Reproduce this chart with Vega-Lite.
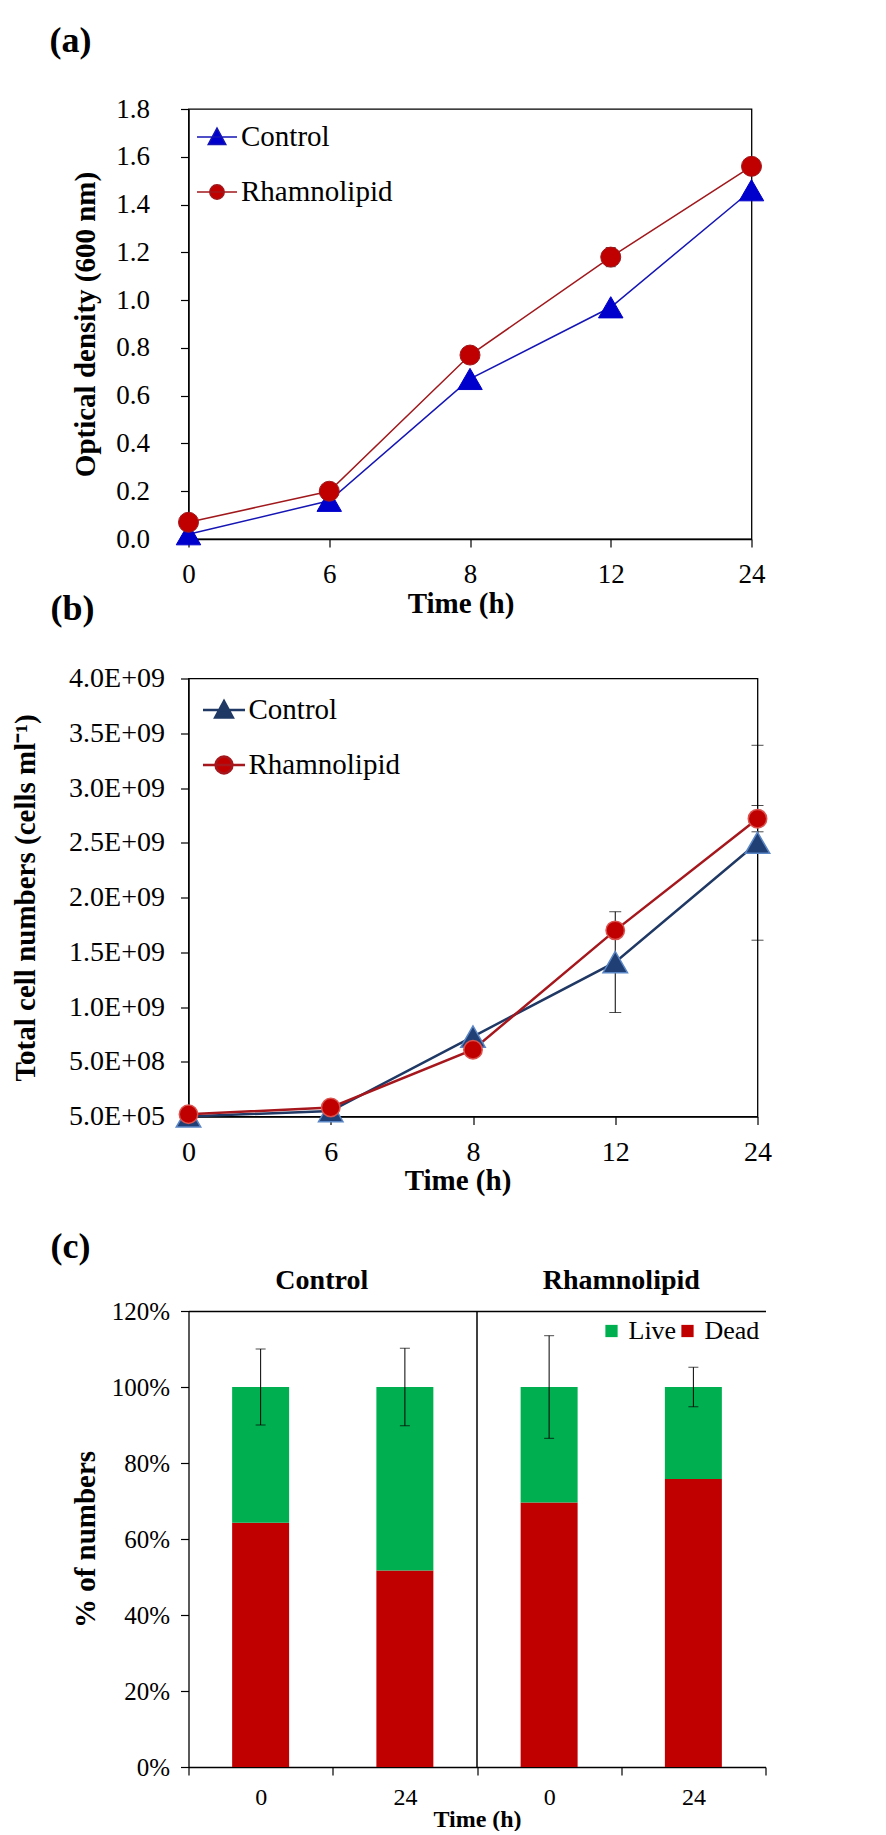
{
  "$schema": "https://vega.github.io/schema/vega-lite/v6.json",
  "background": "white",
  "padding": {"top": 22, "left": 9.5, "right": 0, "bottom": 0},
  "spacing": -28.5,
  "config": {
    "font": "Liberation Serif",
    "view": {"stroke": "black", "strokeWidth": 1.3},
    "axis": {"domainColor": "black", "domainWidth": 1.3, "tickColor": "black", "tickWidth": 1.2, "tickSize": 8, "labelColor": "black", "labelFont": "Liberation Serif", "labelFontSize": 27, "titleFont": "Liberation Serif", "titleFontWeight": "bold", "titleFontSize": 29, "titleColor": "black", "grid": false, "labelAngle": 0},
    "legend": {"labelFont": "Liberation Serif", "labelColor": "black"}
  },
  "datasets": {
    "od": [
      {"time": 0, "series": "Control", "od": 0.02},
      {"time": 6, "series": "Control", "od": 0.16},
      {"time": 8, "series": "Control", "od": 0.67},
      {"time": 12, "series": "Control", "od": 0.97},
      {"time": 24, "series": "Control", "od": 1.46},
      {"time": 0, "series": "Rhamnolipid", "od": 0.07},
      {"time": 6, "series": "Rhamnolipid", "od": 0.20},
      {"time": 8, "series": "Rhamnolipid", "od": 0.77},
      {"time": 12, "series": "Rhamnolipid", "od": 1.18, "err": 0.04},
      {"time": 24, "series": "Rhamnolipid", "od": 1.56}
    ],
    "cells": [
      {"time": 0, "series": "Control", "cells": 500000},
      {"time": 6, "series": "Control", "cells": 50000000},
      {"time": 8, "series": "Control", "cells": 730000000},
      {"time": 12, "series": "Control", "cells": 1410000000, "err": 460000000},
      {"time": 24, "series": "Control", "cells": 2500000000, "err": 890000000},
      {"time": 0, "series": "Rhamnolipid", "cells": 20000000},
      {"time": 6, "series": "Rhamnolipid", "cells": 82000000},
      {"time": 8, "series": "Rhamnolipid", "cells": 610000000},
      {"time": 12, "series": "Rhamnolipid", "cells": 1700000000},
      {"time": 24, "series": "Rhamnolipid", "cells": 2720000000, "err": 120000000}
    ],
    "viab": [
      {"sample": "Control|0", "group": "Control", "time": "0", "status": "Dead", "pct": 0.643},
      {"sample": "Control|0", "group": "Control", "time": "0", "status": "Live", "pct": 0.357},
      {"sample": "Control|24", "group": "Control", "time": "24", "status": "Dead", "pct": 0.517},
      {"sample": "Control|24", "group": "Control", "time": "24", "status": "Live", "pct": 0.483},
      {"sample": "Rhamnolipid|0", "group": "Rhamnolipid", "time": "0", "status": "Dead", "pct": 0.696},
      {"sample": "Rhamnolipid|0", "group": "Rhamnolipid", "time": "0", "status": "Live", "pct": 0.304},
      {"sample": "Rhamnolipid|24", "group": "Rhamnolipid", "time": "24", "status": "Dead", "pct": 0.758},
      {"sample": "Rhamnolipid|24", "group": "Rhamnolipid", "time": "24", "status": "Live", "pct": 0.242}
    ],
    "viabErr": [
      {"sample": "Control|0", "total": 1.0, "err": 0.100},
      {"sample": "Control|24", "total": 1.0, "err": 0.102},
      {"sample": "Rhamnolipid|0", "total": 1.0, "err": 0.135},
      {"sample": "Rhamnolipid|24", "total": 1.0, "err": 0.052}
    ]
  },
  "resolve": {"scale": {"color": "independent", "x": "independent", "y": "independent"}, "legend": {"color": "independent"}},
  "vconcat": [
    {
      "width": 563,
      "height": 430,
      "title": {"text": "(a)", "anchor": "start", "frame": "group", "dx": -139, "offset": 7, "fontSize": 36, "fontWeight": "bold", "font": "Liberation Serif", "baseline": "alphabetic", "color": "black"},
      "data": {"name": "od"},
      "encoding": {
        "x": {"field": "time", "type": "ordinal", "scale": {"type": "point", "padding": 0}, "title": "Time (h)", "axis": {"labelPadding": 14, "titlePadding": 2, "titleX": 272}},
        "y": {"field": "od", "type": "quantitative", "scale": {"domain": [0, 1.8]}, "title": "Optical density (600 nm)", "axis": {"values": [0, 0.2, 0.4, 0.6, 0.8, 1.0, 1.2, 1.4, 1.6, 1.8], "format": ".1f", "labelPadding": 31, "titlePadding": 15}}
      },
      "layer": [
        {"transform": [{"filter": "datum.err > 0"}], "mark": {"type": "errorbar", "ticks": {"size": 10}, "color": "black", "thickness": 1}, "encoding": {"yError": {"field": "err"}}},
        {"mark": {"type": "line", "strokeWidth": 1.5},
         "encoding": {"color": {"field": "series", "type": "nominal", "scale": {"domain": ["Control", "Rhamnolipid"], "range": ["#1515B5", "#A0181C"]},
           "legend": {"orient": "none", "legendX": 7.5, "legendY": 7, "title": null, "padding": 0, "symbolSize": 1600, "symbolStrokeWidth": 1.5, "labelFontSize": 29, "labelOffset": 3, "rowPadding": 19,
             "encode": {"symbols": {"update": {
               "shape": {"signal": "datum.value === 'Control' ? 'M-1,0L1,0M0,-0.45L0.44,0.38L-0.44,0.38Z' : 'M-1,0L1,0M0.36,0A0.36,0.36,0,1,1,-0.36,0A0.36,0.36,0,1,1,0.36,0Z'"},
               "fill": {"signal": "datum.value === 'Control' ? '#0000CC' : '#C00000'"},
               "stroke": {"signal": "datum.value === 'Control' ? '#1515B5' : '#A0181C'"},
               "strokeWidth": {"value": 1.5}, "opacity": {"value": 1}, "fillOpacity": {"value": 1}, "strokeOpacity": {"value": 1}}}}}}}},
        {"transform": [{"filter": "datum.series === 'Control'"}], "mark": {"type": "point", "shape": "triangle-up", "size": 600, "filled": true, "fill": "#0000CC", "stroke": "#0000CC", "strokeWidth": 1, "opacity": 1}},
        {"transform": [{"filter": "datum.series === 'Rhamnolipid'"}], "mark": {"type": "point", "shape": "circle", "size": 400, "filled": true, "fill": "#C00000", "stroke": "#A0181C", "strokeWidth": 1, "opacity": 1}}
      ]
    },
    {
      "width": 569,
      "height": 438,
      "title": {"text": "(b)", "anchor": "start", "frame": "group", "dx": -138, "offset": 8.2, "fontSize": 36, "fontWeight": "bold", "font": "Liberation Serif", "baseline": "alphabetic", "color": "black"},
      "data": {"name": "cells"},
      "encoding": {
        "x": {"field": "time", "type": "ordinal", "scale": {"type": "point", "padding": 0}, "title": ["Time (h)", " "], "axis": {"labelPadding": 14, "labelFontSize": 28, "titlePadding": 0, "titleX": 269, "titleLineHeight": 60}},
        "y": {"field": "cells", "type": "quantitative", "scale": {"domain": [0, 4000000000]}, "title": "Total cell numbers (cells ml⁻¹)", "axis": {"values": [0, 500000000, 1000000000, 1500000000, 2000000000, 2500000000, 3000000000, 3500000000, 4000000000], "labelExpr": "datum.value == 0 ? '5.0E+05' : datum.value < 1e9 ? '5.0E+08' : format(datum.value / 1e9, '.1f') + 'E+09'", "labelFontSize": 28, "labelPadding": 16, "titlePadding": 28.6}}
      },
      "layer": [
        {"transform": [{"filter": "datum.err > 0"}], "mark": {"type": "errorbar", "ticks": {"size": 12}, "color": "black", "thickness": 1}, "encoding": {"yError": {"field": "err"}}},
        {"mark": {"type": "line", "strokeWidth": 2.5},
         "encoding": {"color": {"field": "series", "type": "nominal", "scale": {"domain": ["Control", "Rhamnolipid"], "range": ["#1F3864", "#A5171C"]},
           "legend": {"orient": "none", "legendX": 13, "legendY": 9, "title": null, "padding": 0, "symbolSize": 1764, "symbolStrokeWidth": 2.5, "labelFontSize": 29, "labelOffset": 2, "rowPadding": 17,
             "encode": {"symbols": {"update": {
               "shape": {"signal": "datum.value === 'Control' ? 'M-1,0L1,0M0,-0.42L0.42,0.36L-0.42,0.36Z' : 'M-1,0L1,0M0.4,0A0.4,0.4,0,1,1,-0.4,0A0.4,0.4,0,1,1,0.4,0Z'"},
               "fill": {"signal": "datum.value === 'Control' ? '#1F3864' : '#C00000'"},
               "stroke": {"signal": "datum.value === 'Control' ? '#1F3864' : '#A5171C'"},
               "strokeWidth": {"value": 2.5}, "opacity": {"value": 1}, "fillOpacity": {"value": 1}, "strokeOpacity": {"value": 1}}}}}}}},
        {"transform": [{"filter": "datum.series === 'Control'"}], "mark": {"type": "point", "shape": "triangle-up", "size": 600, "filled": true, "fill": "#1F3F75", "stroke": "#5B86C5", "strokeWidth": 1.5, "opacity": 1}},
        {"transform": [{"filter": "datum.series === 'Rhamnolipid'"}], "mark": {"type": "point", "shape": "circle", "size": 340, "filled": true, "fill": "#C00000", "stroke": "#D9534F", "strokeWidth": 1.5, "opacity": 1}}
      ]
    },
    {
      "width": 577,
      "height": 456,
      "view": {"stroke": null},
      "title": {"text": "(c)", "anchor": "start", "frame": "group", "dx": -138, "offset": -27.3, "fontSize": 36, "fontWeight": "bold", "font": "Liberation Serif", "baseline": "alphabetic", "color": "black"},
      "data": {"name": "viab"},
      "resolve": {"axis": {"x": "independent"}},
      "layer": [
        {"mark": {"type": "bar", "width": {"band": 0.395}},
         "encoding": {
           "x": {"field": "sample", "type": "nominal", "sort": ["Control|0", "Control|24", "Rhamnolipid|0", "Rhamnolipid|24"], "scale": {"paddingInner": 0, "paddingOuter": 0}, "title": "Time (h)", "axis": {"orient": "bottom", "tickBand": "extent", "labelExpr": "split(datum.label, '|')[1]", "labelFontSize": 24, "labelPadding": 10, "titleFontSize": 24, "titlePadding": -2}},
           "y": {"field": "pct", "type": "quantitative", "stack": "zero", "scale": {"domain": [0, 1.2]}, "title": "% of numbers", "axis": {"values": [0, 0.2, 0.4, 0.6, 0.8, 1.0, 1.2], "format": ".0%", "labelFontSize": 25, "labelPadding": 11, "titlePadding": 10.5}},
           "color": {"field": "status", "type": "nominal", "scale": {"domain": ["Live", "Dead"], "range": ["#00B050", "#C00000"]},
             "legend": {"orient": "none", "legendX": 410, "legendY": 7, "direction": "horizontal", "title": null, "padding": 0, "symbolType": "square", "symbolSize": 150, "symbolStrokeWidth": 0, "labelFontSize": 26, "labelOffset": 4, "columnPadding": -2, "gridAlign": "none"}},
           "order": {"field": "status", "sort": "ascending"}
         }},
        {"data": {"name": "viabErr"},
         "mark": {"type": "errorbar", "ticks": {"size": 10}, "color": "black", "thickness": 1},
         "encoding": {
           "x": {"field": "sample", "type": "nominal", "axis": null},
           "y": {"field": "total", "type": "quantitative", "title": "% of numbers"},
           "yError": {"field": "err"}
         }},
        {"transform": [{"filter": "datum.time === '24' && datum.status === 'Dead' && datum.group === 'Control'"}],
         "mark": {"type": "text", "font": "Liberation Serif", "fontSize": 28, "fontWeight": "bold", "color": "black", "baseline": "middle", "align": "center", "clip": false, "dx": -11},
         "encoding": {
           "x": {"field": "sample", "type": "nominal", "bandPosition": 0, "axis": null},
           "y": {"datum": 1.28},
           "text": {"field": "group"}
         }},
        {"transform": [{"filter": "datum.time === '24' && datum.status === 'Dead' && datum.group === 'Rhamnolipid'"}],
         "mark": {"type": "text", "font": "Liberation Serif", "fontSize": 28, "fontWeight": "bold", "color": "black", "baseline": "middle", "align": "center", "clip": false},
         "encoding": {
           "x": {"field": "sample", "type": "nominal", "bandPosition": 0, "axis": null},
           "y": {"datum": 1.28},
           "text": {"field": "group"}
         }},
        {"transform": [{"filter": "datum.sample === 'Rhamnolipid|0' && datum.status === 'Dead'"}],
         "mark": {"type": "rule", "color": "black", "strokeWidth": 1.5},
         "encoding": {
           "x": {"field": "sample", "type": "nominal", "bandPosition": 0, "axis": {"orient": "top", "labels": false, "ticks": false, "title": null, "domain": true}},
           "y": {"datum": 0},
           "y2": {"datum": 1.2}
         }}
      ]
    }
  ]
}
